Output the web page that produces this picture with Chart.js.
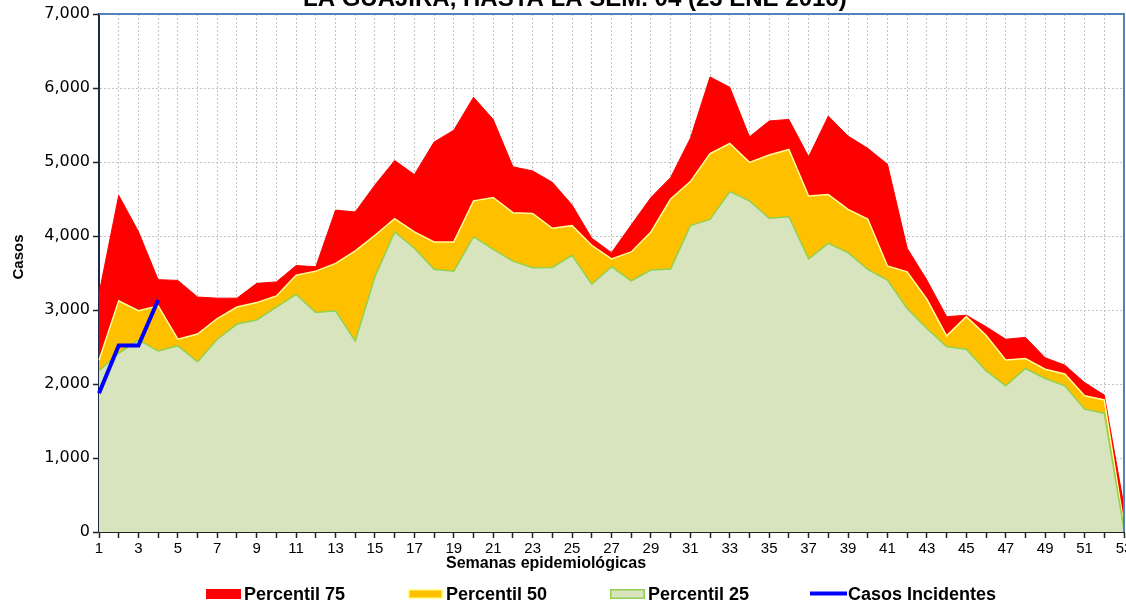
<!DOCTYPE html>
<html>
<head>
<meta charset="utf-8">
<script src="https://cdn.jsdelivr.net/npm/chart.js@4.4.0/dist/chart.umd.min.js"></script>
<style>
  html, body { margin: 0; padding: 0; background: #fff; }
</style>
</head>
<body>
<canvas id="myChart" width="1126" height="607"></canvas>
<script>
// semanas epidemiologicas
var semanas = ['1','2','3','4','5','6','7','8','9','10','11','12','13','14','15','16','17','18','19','20',
  '21','22','23','24','25','26','27','28','29','30','31','32','33','34','35','36','37','38','39','40',
  '41','42','43','44','45','46','47','48','49','50','51','52','53'];

var percentil75 = [3220, 4550, 4060, 3410, 3400, 3175, 3160, 3160, 3360, 3380, 3600, 3585, 4350, 4325, 4690, 5020, 4830, 5270,
  5430, 5875, 5575, 4935, 4880, 4725, 4420, 3970, 3775, 4150, 4520, 4790, 5320, 6150, 6010, 5340, 5555, 5575,
  5070, 5620, 5350, 5185, 4970, 3835, 3405, 2910, 2930, 2775, 2605, 2630, 2355, 2255, 2020, 1850, 350];

var percentil50 = [2320, 3125, 2990, 3055, 2605, 2675, 2885, 3040, 3100, 3190, 3470, 3525, 3630, 3800, 4010, 4235, 4055, 3920,
  3920, 4475, 4520, 4315, 4305, 4105, 4140, 3875, 3690, 3785, 4055, 4500, 4735, 5115, 5250, 4995, 5095, 5170,
  4540, 4560, 4360, 4230, 3595, 3515, 3145, 2650, 2910, 2660, 2325, 2345, 2200, 2135, 1840, 1785, 90];

var percentil25 = [2180, 2415, 2595, 2445, 2515, 2300, 2605, 2810, 2865, 3040, 3210, 2965, 2990, 2580, 3450, 4055, 3835, 3550,
  3525, 3990, 3820, 3660, 3570, 3575, 3740, 3350, 3585, 3395, 3540, 3555, 4140, 4225, 4600, 4475, 4240, 4260,
  3690, 3900, 3775, 3550, 3405, 3020, 2750, 2505, 2470, 2180, 1975, 2210, 2075, 1975, 1660, 1605, 40];

var casosIncidentes = [1875, 2520, 2520, 3135];

var yTicks = [0, 1000, 2000, 3000, 4000, 5000, 6000, 7000];

var titulo = 'LA GUAJIRA, HASTA LA SEM. 04 (23 ENE 2016)';

// extra texts, borders and legend
var extras = {
  id: 'extras',
  afterDraw: function(chart) {
    var ctx = chart.ctx;
    var a = chart.chartArea;
    ctx.save();

    // marco azul arriba y a la derecha
    ctx.strokeStyle = '#4f81bd';
    ctx.lineWidth = 2;
    ctx.beginPath();
    ctx.moveTo(a.left, a.top);
    ctx.lineTo(a.right, a.top);
    ctx.lineTo(a.right, a.bottom);
    ctx.stroke();

    // titulo (cortado arriba, como en la imagen)
    ctx.fillStyle = '#000';
    ctx.font = 'bold 24px "Liberation Sans", Arial';
    ctx.textAlign = 'left';
    ctx.textBaseline = 'alphabetic';
    ctx.fillText(titulo, 303, 6);

    ctx.font = 'bold 16px "Liberation Sans Narrow", "Liberation Sans"';
    ctx.textAlign = 'center';
    ctx.textBaseline = 'middle';
    ctx.fillText('Semanas epidemiológicas', 546, 564);

    ctx.save();
    ctx.translate(19, 257);
    ctx.rotate(-Math.PI / 2);
    ctx.font = 'bold 15px "Liberation Sans", Arial';
    ctx.fillText('Casos', 0, 0);
    ctx.restore();

    // leyenda
    var order = [3, 2, 1, 0];
    var xs = [206, 408, 610, 810];
    ctx.font = 'bold 18px "Liberation Sans", Arial';
    ctx.textAlign = 'left';
    for (var k = 0; k < order.length; k++) {
      var ds = chart.data.datasets[order[k]];
      var x = xs[k];
      if (ds.fill) {
        ctx.fillStyle = ds.backgroundColor;
        ctx.fillRect(x, 589, 35, 10);
        ctx.strokeStyle = ds.borderColor;
        ctx.lineWidth = 1.5;
        ctx.strokeRect(x + 0.75, 589.75, 33.5, 8.5);
      } else {
        ctx.strokeStyle = ds.borderColor;
        ctx.lineWidth = 4;
        ctx.beginPath();
        ctx.moveTo(x, 593.5);
        ctx.lineTo(x + 37, 593.5);
        ctx.stroke();
      }
      ctx.fillStyle = '#000';
      ctx.fillText(ds.label, x + 38, 595);
    }
    ctx.restore();
  }
};

var ctx = document.getElementById('myChart');

var chartdata = {
  labels: semanas,
  datasets: [
    {
      label: 'Casos Incidentes',
      data: casosIncidentes,
      borderColor: '#0000ff',
      backgroundColor: '#0000ff',
      borderWidth: 4,
      fill: false,
      pointRadius: 0,
      order: 0
    },
    {
      label: 'Percentil 25',
      data: percentil25,
      borderColor: '#92d050',
      backgroundColor: '#d7e4bd',
      borderWidth: 1.5,
      fill: 'origin',
      pointRadius: 0,
      order: 1
    },
    {
      label: 'Percentil 50',
      data: percentil50,
      borderColor: '#ffff99',
      backgroundColor: '#ffc000',
      borderWidth: 1.5,
      fill: 'origin',
      pointRadius: 0,
      order: 2
    },
    {
      label: 'Percentil 75',
      data: percentil75,
      borderColor: '#ff0000',
      backgroundColor: '#ff0000',
      borderWidth: 1,
      fill: 'origin',
      pointRadius: 0,
      order: 3
    }
  ]
};

var chart = new Chart(ctx, {
  type: 'line',
  data: chartdata,
  plugins: [extras],
  options: {
    responsive: false,
    animation: false,
    devicePixelRatio: 1,
    layout: { padding: { left: 0, right: 2, top: 14, bottom: 0 } },
    plugins: {
      legend: { display: false },
      tooltip: { enabled: false }
    },
    scales: {
      x: {
        offset: false,
        grid: {
          color: '#c4c4c4',
          lineWidth: 1,
          tickColor: '#222',
          tickLength: 6,
          tickWidth: 1.5
        },
        border: { color: '#222', width: 2, dash: [2, 2] },
        ticks: {
          autoSkip: false,
          maxRotation: 0,
          minRotation: 0,
          padding: 2,
          color: '#000',
          font: { family: '"Liberation Sans Narrow", "Liberation Sans"', size: 15 },
          callback: function(val, i) {
            return (i % 2 === 0) ? semanas[i] : '';
          }
        },
        afterFit: function(scale) {
          scale.height = 75;
          scale.paddingLeft = 0;
          scale.paddingRight = 0;
        }
      },
      y: {
        min: 0,
        max: 7000,
        grid: {
          color: '#c4c4c4',
          lineWidth: 1,
          tickColor: '#222',
          tickLength: 6,
          tickWidth: 1.5
        },
        border: { color: '#1c2a4a', width: 2, dash: [2, 2] },
        afterBuildTicks: function(scale) {
          scale.ticks = yTicks.map(function(v) { return { value: v }; });
        },
        ticks: {
          padding: 3,
          color: '#000',
          font: { family: '"DejaVu Sans"', size: 16 },
          callback: function(v) { return v.toLocaleString('en-US'); }
        },
        afterFit: function(scale) {
          scale.width = 99;
          scale.paddingTop = 0;
          scale.paddingBottom = 0;
        }
      }
    }
  }
});
</script>
</body>
</html>
